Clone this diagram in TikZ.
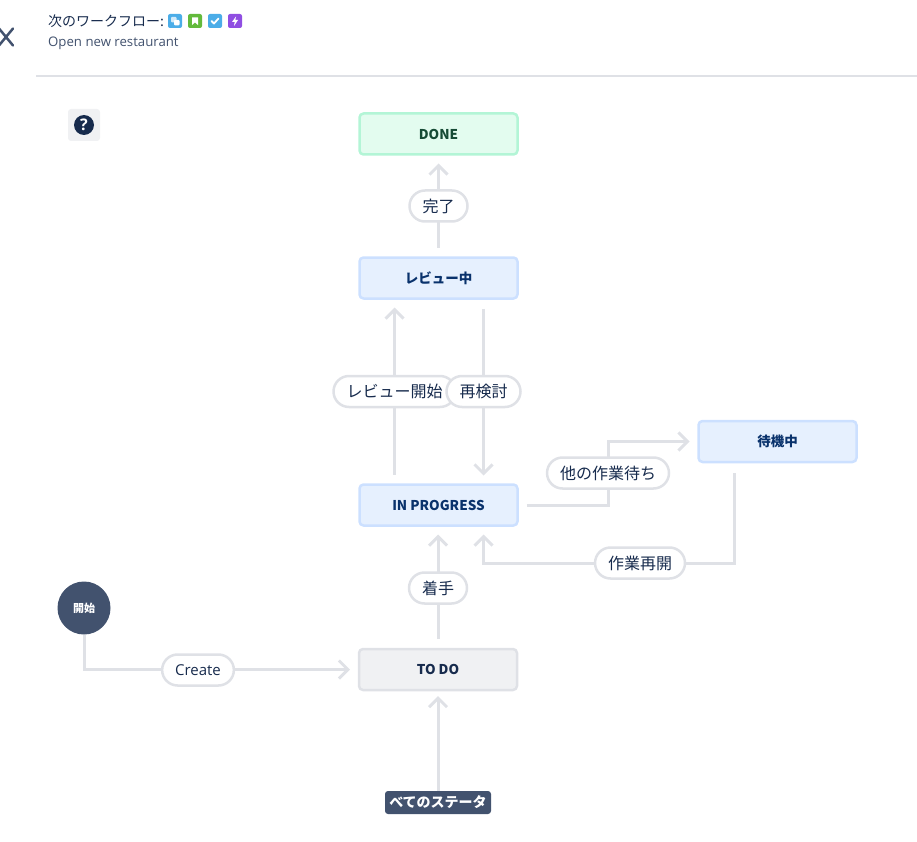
\documentclass[tikz,border=0pt]{standalone}
\usepackage{fontspec}
\setmainfont{Open Sans}
\newfontfamily\cjk{Noto Sans CJK JP}
\usetikzlibrary{arrows.meta,backgrounds}
\definecolor{ink}{HTML}{172B4D}
\definecolor{slate}{HTML}{42526E}
\definecolor{wire}{HTML}{DFE1E6}
\definecolor{greyfill}{HTML}{F0F1F3}
\definecolor{bluefill}{HTML}{E6F0FE}
\definecolor{blueline}{HTML}{CCE0FF}
\definecolor{bluetext}{HTML}{09326C}
\definecolor{greenfill}{HTML}{E3FCEF}
\definecolor{greenline}{HTML}{B3F5D6}
\definecolor{greentext}{HTML}{164B35}
\definecolor{iconblue}{HTML}{4BADE8}
\definecolor{icongreen}{HTML}{63BA3C}
\definecolor{iconviolet}{HTML}{904EE2}
\tikzset{
  statusbox/.style={draw=blueline,fill=bluefill,line width=2.5pt,rounded corners=4pt,
    minimum width=158pt,minimum height=41pt,outer sep=0pt,text=bluetext,
    font=\cjk\fontsize{13.5}{16}\selectfont\bfseries},
  edgelabel/.style={draw=wire,fill=white,line width=2.5pt,rounded corners=15.5pt,
    minimum height=31pt,inner xsep=13pt,inner ysep=0pt,outer sep=0pt,text=ink,
    font=\cjk\fontsize{16}{18}\selectfont},
  flow/.style={draw=wire,line width=3pt,-{Straight Barb[length=9pt,width=18pt]},
    shorten <=10pt,shorten >=9pt}
}
\begin{document}
\begin{tikzpicture}[line cap=round,line join=round,x=1pt,y=-1pt]
    \useasboundingbox (0,0) rectangle (917,842);

    % header
    \draw [line width=2.5pt,color=slate] (-1,28.5) -- (13,45.5);
    \draw [line width=2.5pt,color=slate] (13,28.5) -- (-1,45.5);
    \node (title) [anchor=west,inner sep=0pt,text=ink,font=\cjk\fontsize{14}{16}\selectfont] at (48,21) {次のワークフロー:};
    \node (project) [anchor=west,inner sep=0pt,text=slate,font=\fontsize{13.2}{15}\selectfont] at (48,43.5) {Open new restaurant};
    \draw [line width=2pt,color=wire,line cap=butt] (36,76) -- (917,76);

    % issue type icons
    \fill [color=iconblue,rounded corners=2pt] (168,14) rectangle (182,28);
    \fill [white,opacity=.75,rounded corners=1pt] (171,17) rectangle (176.5,22.5);
    \fill [white,rounded corners=1pt] (174,20) rectangle (179.5,25.5);
    \fill [color=icongreen,rounded corners=2pt] (188,14) rectangle (202,28);
    \fill [white] (192,17.5) -- (198,17.5) -- (198,25) -- (195,22.5) -- (192,25) -- cycle;
    \fill [color=iconblue,rounded corners=2pt] (208,14) rectangle (222,28);
    \draw [white,line width=1.8pt] (211.5,21) -- (214,23.5) -- (218.5,18.5);
    \fill [color=iconviolet,rounded corners=2pt] (228,14) rectangle (242,28);
    \fill [white] (236,16.5) -- (232,22) -- (234.7,22) -- (234,26) -- (238,20) -- (235.3,20) -- cycle;

    % help button
    \fill [color=greyfill,rounded corners=3pt] (68,109) rectangle (100,141);
    \node (help) [circle,fill=ink,minimum size=20pt,inner sep=0pt,text=white,font=\fontsize{16}{16}\selectfont\bfseries] at (84,125) {?};

    % statuses
    \node (done) [statusbox,draw=greenline,fill=greenfill,text=greentext] at (438.5,134) {DONE};
    \node (review) [statusbox] at (438.5,278) {レビュー中};
    \node (progress) [statusbox] at (438.5,505) {IN PROGRESS};
    \node (waiting) [statusbox] at (777.5,441.5) {待機中};
    \node (todo) [statusbox,draw=wire,fill=greyfill,text=ink] at (438,669.5) {TO DO};
    \node (start) [circle,fill=slate,minimum size=53pt,inner sep=0pt,outer sep=0pt,text=white,font=\cjk\fontsize{11}{12}\selectfont\bfseries] at (84,608) {開始};
    \node (allstatus) [fill=slate,rounded corners=3pt,minimum width=106pt,minimum height=23pt,inner sep=0pt,outer sep=0pt,text=white,font=\cjk\fontsize{14}{16}\selectfont\bfseries] at (438,802.5) {べてのステータ};

    % transition labels
    \node (finish) [edgelabel] at (438.5,206) {完了};
    \node (startreview) [edgelabel] at (394.5,391.5) {レビュー開始};
    \node (recheck) [edgelabel] at (483.5,391.5) {再検討};
    \node (hold) [edgelabel] at (608,473) {他の作業待ち};
    \node (resume) [edgelabel] at (640,563) {作業再開};
    \node (begin) [edgelabel] at (438,588) {着手};
    \node (create) [edgelabel,font=\fontsize{15}{18}\selectfont] at (198,670) {Create};

    \coordinate (holdout) at (734,463);

    \begin{pgfonlayer}{background}
    \draw [flow] (review.north) -- (done.south);
    \draw [flow] (startreview |- progress.north) -- (startreview |- review.south);
    \draw [flow] (recheck |- review.south) -- (recheck |- progress.north);
    \draw [flow,shorten <=9pt] (progress.east) -| (hold.center) |- (waiting.west);
    \draw [flow] (holdout) |- (resume.center) -| (recheck |- progress.south);
    \draw [flow] (todo.north) -- (progress.south -| todo.north);
    \draw [flow,shorten <=0pt] (start.south) |- (todo.west);
    \draw [flow,shorten <=0pt,shorten >=6pt] (allstatus.north) -- (todo.south);
    \end{pgfonlayer}
\end{tikzpicture}
\end{document}
